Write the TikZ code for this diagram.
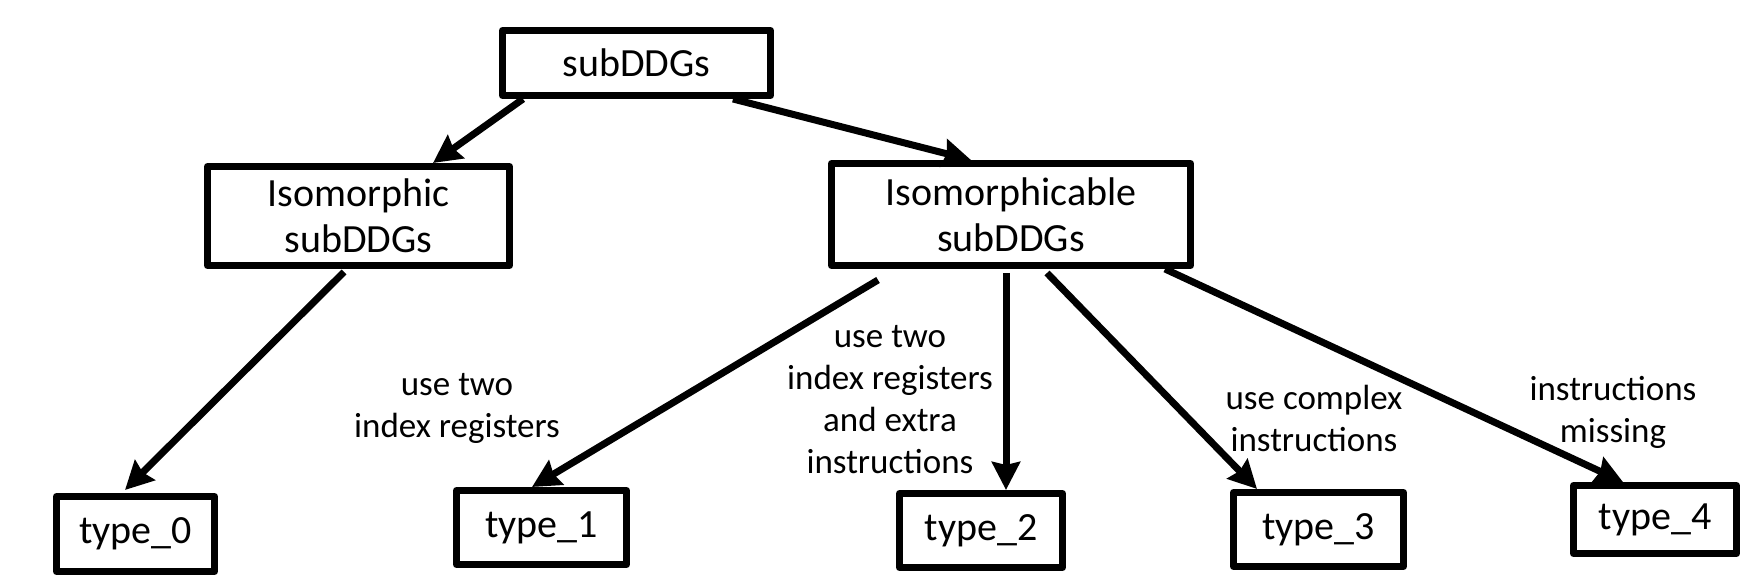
\documentclass[tikz,border=0pt]{standalone}
\usepackage{fontspec}
\setmainfont{Carlito}
\usetikzlibrary{arrows.meta}
\begin{document}
\begin{tikzpicture}[x=0.5pt,y=-0.5pt,
  box/.style={draw, line width=3.5pt, line join=round, inner sep=0pt,
    align=center, font=\fontsize{20}{23}\selectfont},
  lbl/.style={align=center, inner sep=0pt, font=\fontsize{17.5}{21}\selectfont},
  arr/.style={line width=3.5pt, -{Stealth[length=14pt, width=14pt, inset=1.5pt]}}]
\useasboundingbox (0,0) rectangle (1742,581);

% tree of boxes
\node[box, minimum width=134pt, minimum height=32.5pt] (root) at (636.5,63) {subDDGs};
\node[box, minimum width=151pt, minimum height=49.5pt] (iso) at (358.5,216) {Isomorphic\\subDDGs};
\node[box, minimum width=179.5pt, minimum height=51pt] (isoable) at (1011,214.5) {Isomorphicable\\subDDGs};
\node[box, minimum width=79pt, minimum height=37.5pt] (t0) at (135.5,534) {type\_0};
\node[box, minimum width=85pt, minimum height=37pt] (t1) at (541.5,527.5) {type\_1};
\node[box, minimum width=81.5pt, minimum height=37pt] (t2) at (981,530.5) {type\_2};
\node[box, minimum width=85pt, minimum height=37pt] (t3) at (1318.5,529.5) {type\_3};
\node[box, minimum width=81.5pt, minimum height=34pt] (t4) at (1655,519.5) {type\_4};

% edge labels
\node[lbl] (l1) at (457,408) {use two\\index registers};
\node[lbl] (l2) at (890,400) {use two\\index registers\\and extra\\instructions};
\node[lbl] (l3) at (1314,418) {use complex\\instructions};
\node[lbl] (l4) at (1613,412) {instructions\\missing};

% connectors
\draw[arr] ([xshift=-56.75pt]root.south) -- ([xshift=37.25pt]iso.north);
\draw[arr] ([xshift=48.25pt]root.south) -- ([xshift=-20pt]isoable.north);
\draw[arr] ([xshift=-7.25pt,yshift=-1.5pt]iso.south) -- ([xshift=-5.25pt,yshift=1.5pt]t0.north);
\draw[arr] ([xshift=-66.5pt,yshift=-5.5pt]isoable.south) -- ([xshift=-4.75pt]t1.north);
\draw[arr] ([xshift=-2.5pt,yshift=-2pt]isoable.south) -- ([xshift=12.5pt]t2.north);
\draw[arr] ([xshift=18pt,yshift=-2pt]isoable.south) -- ([xshift=-30.75pt]t3.north);
\draw[arr] ([xshift=77pt]isoable.south) -- ([xshift=-16pt]t4.north);
\end{tikzpicture}
\end{document}
